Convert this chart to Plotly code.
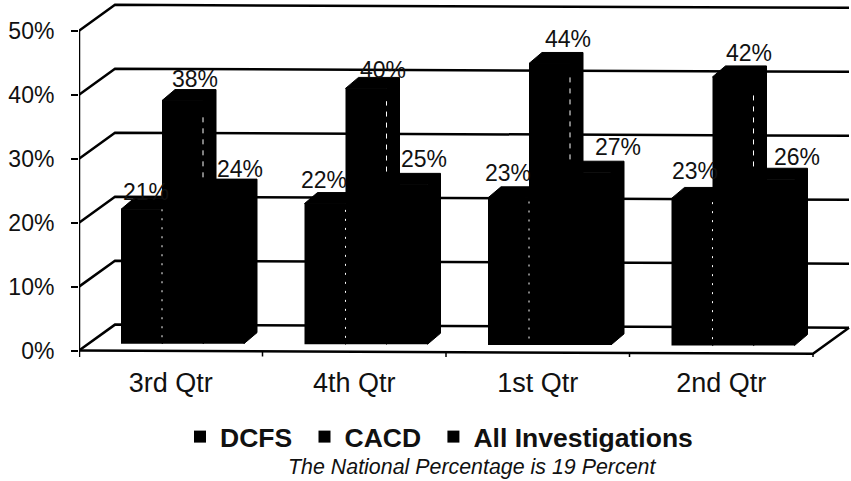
"""
Three-series quarterly bar chart drawn in the old spreadsheet 3D style.
"""

import plotly.graph_objects as go

quarters = ["3rd Qtr", "4th Qtr", "1st Qtr", "2nd Qtr"]
dcfs = [21, 22, 23, 23]
cacd = [38, 40, 44, 42]
all_investigations = [24, 25, 27, 26]
y_ticks = [0, 10, 20, 30, 40, 50]

# shift of each value label from the top of its bar, in pixels
dcfs_shift = [(-2, 6), (-8, 13), (-7, 14), (-4, 16)]
cacd_shift = [(6, 11), (10, 7), (12, 13), (9, 13)]
all_shift = [(10, 10), (10, 14), (21, 14), (16, 11)]

PX_X = 183.5  # pixels per category
PX_Y = 6.4  # pixels per percent
BAR_W = 41 / PX_X
BAR_START = 42 / PX_X
BAR_DX, BAR_DY = 13 / PX_X, 11 / PX_Y
WALL_DX, WALL_DY = 36 / PX_X, 26 / PX_Y
TILT = -0.12
INK = "#000000"
TEXT = "#111111"
FONT = "Liberation Sans"


def floor_y(x):
    return TILT * x


def line_trace(xs, ys, width=2.5, color=INK, dash=None):
    return go.Scatter(
        x=xs, y=ys, mode="lines", showlegend=False, hoverinfo="skip", cliponaxis=False,
        line=dict(color=color, width=width, dash=dash),
    )


fig = go.Figure()

# Back wall gridlines and the floor outline
n = len(quarters)
for v in y_ticks:
    fig.add_trace(line_trace(
        [0, WALL_DX, n + WALL_DX],
        [v, v + WALL_DY, v + WALL_DY + floor_y(n)],
    ))
fig.add_trace(line_trace(
    [0, n, n + WALL_DX],
    [0, floor_y(n), WALL_DY + floor_y(n)], width=2.5,
))
fig.add_trace(line_trace([0, 0], [y_ticks[0] - 1, y_ticks[-1]], width=2.5))
for i in range(1, n + 1):
    fig.add_trace(line_trace([i, i], [floor_y(i) - 0.8, floor_y(i)], width=1.5))

bases = [1.09 - 0.1 * i for i in range(n)]
# the trailing no-break spaces only widen the legend entries
series = [
    ("DCFS\u00a0", dcfs, dcfs_shift),
    ("CACD\u00a0", cacd, cacd_shift),
    ("All Investigations", all_investigations, all_shift),
]

annotations = []
for s, (name, values, shifts) in enumerate(series):
    lefts = [i + BAR_START + s * BAR_W for i in range(n)]
    fig.add_trace(go.Bar(
        x=[x + BAR_W / 2 for x in lefts], y=values, base=bases, width=BAR_W, name=name,
        marker=dict(color=INK, line=dict(width=0)),
        hovertemplate=name + ": %{y}%<extra></extra>",
    ))

    # top and side faces
    xs, ys = [], []
    for x, v, b in zip(lefts, values, bases):
        top = b + v
        r = x + BAR_W
        xs += [x, x + BAR_DX, r + BAR_DX, r + BAR_DX, r, r, x, None]
        ys += [top, top + BAR_DY, top + BAR_DY, b + BAR_DY, b, top, top, None]
    fig.add_trace(go.Scatter(
        x=xs, y=ys, mode="lines", fill="toself", fillcolor=INK, cliponaxis=False,
        line=dict(color=INK, width=1), showlegend=False, hoverinfo="skip",
    ))

    for x, v, b, (dx, dy) in zip(lefts, values, bases, shifts):
        annotations.append(dict(
            x=x + BAR_W / 2 + BAR_DX / 2, y=b + v + BAR_DY, text=f"{v}%",
            xref="x", yref="y", showarrow=False, xshift=dx, yshift=dy,
            font=dict(family=FONT, size=23, color=TEXT),
        ))

# Scanner flecks on the bar joins
for i in range(n):
    x1 = i + BAR_START + BAR_W
    x2 = i + BAR_START + 2 * BAR_W
    fig.add_trace(line_trace([x1, x1], [bases[i] + 1, bases[i] + dcfs[i]], width=1, color="#ffffff", dash="2px,7px"))
    fig.add_trace(line_trace(
        [x2, x2], [bases[i] + all_investigations[i] + 2, bases[i] + cacd[i] - 2],
        width=1, color="#ffffff", dash="5px,6px",
    ))

annotations.append(dict(
    x=(471.5 - 79) / 772, y=-0.348, xref="paper", yref="paper", showarrow=False, xanchor="center",
    text="<i>The National Percentage is 19 Percent</i>",
    font=dict(family=FONT, size=21.4, color=TEXT),
))

fig.update_layout(
    width=851, height=481,
    paper_bgcolor="#ffffff", plot_bgcolor="#ffffff",
    barmode="overlay", showlegend=True,
    font=dict(family=FONT, size=23, color=TEXT),
    margin=dict(l=79, r=0, t=2, b=123.6, pad=0),
    xaxis=dict(
        range=[0, (851 - 79) / PX_X], tickmode="array",
        tickvals=[i + 0.5 for i in range(n)], ticktext=quarters,
        showgrid=False, zeroline=False, showline=False, ticks="", ticklabelstandoff=7,
        tickfont=dict(size=27),
    ),
    yaxis=dict(
        range=[-1, 54.5], tickmode="array", tickvals=y_ticks,
        ticktext=[f"{v}%" for v in y_ticks],
        showgrid=False, zeroline=False, showline=False,
        ticks="outside", ticklen=7, tickwidth=2, tickcolor=INK, ticklabelstandoff=12,
    ),
    legend=dict(
        orientation="h", xanchor="left", x=(180 - 79) / 772, yanchor="middle", y=-0.225,
        font=dict(family=FONT, size=26.5, weight="bold", color=TEXT),
        bgcolor="rgba(0,0,0,0)",
    ),
    annotations=annotations,
)

fig.write_html(
    "out.html", config=dict(displayModeBar=False),
    post_script="document.body.style.margin = '0';",
)
